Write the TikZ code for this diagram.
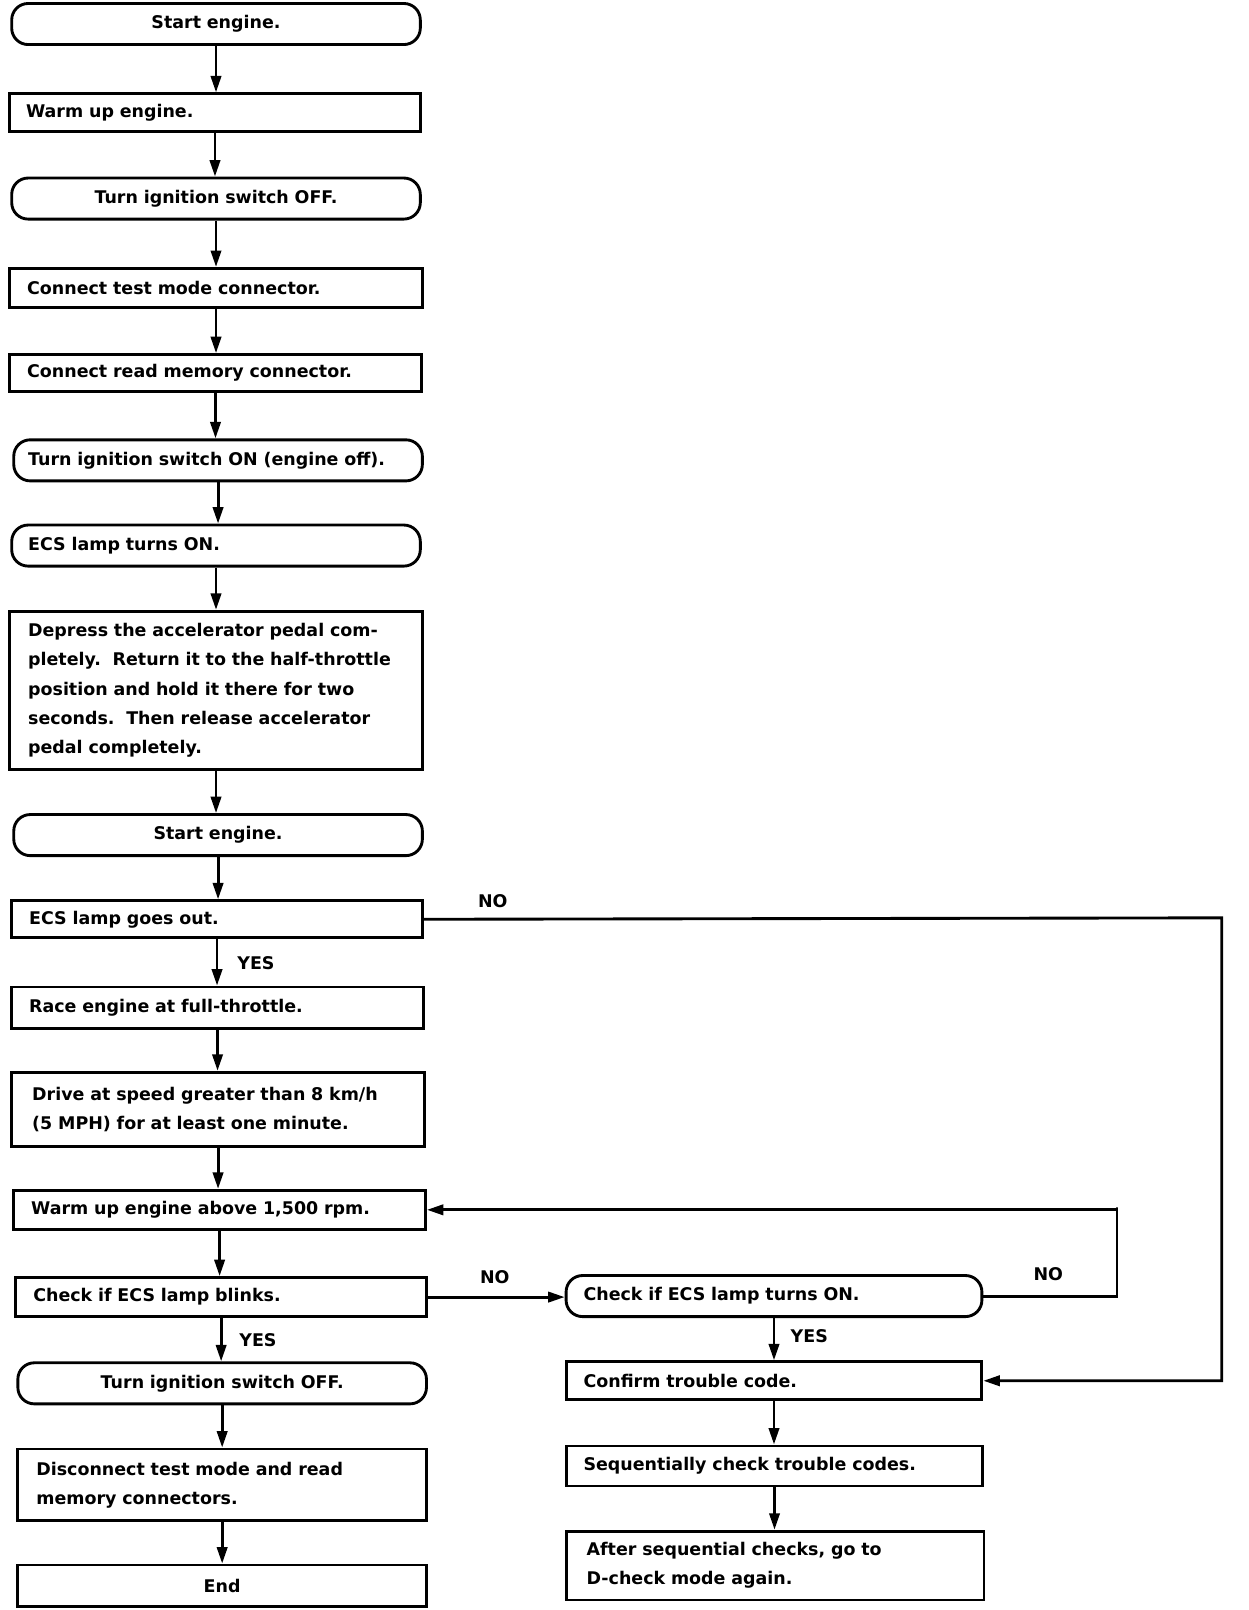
\documentclass[tikz,border=0pt]{standalone}
\usepackage{fontspec}
\setmainfont{DejaVu Sans}
\usetikzlibrary{arrows.meta}
\begin{document}
\begin{tikzpicture}[x=1pt,y=-1pt,
  every node/.style={font=\fontsize{17}{28.5}\selectfont\bfseries},
  base/.style={draw, line width=2.8pt, anchor=north west, inner xsep=17pt, inner ysep=0pt, align=left},
  sbox/.style={base},
  rbox/.style={base, rounded corners=16pt},
  lbl/.style={inner sep=0pt},
  conn/.style={line width=2.8pt},
  arr/.style={conn, -{Triangle[width=10pt,length=16pt]}}
]
\useasboundingbox (0,0) rectangle (1215.6,1568.2);

\node[rbox, minimum width=398pt, minimum height=40pt, text width=364pt, align=center] (n1) at (10,2) {Start engine.};
\node[sbox, minimum width=400pt, minimum height=37pt, text width=368pt, inner xsep=16pt] (n2) at (8,90) {Warm up engine.};
\node[rbox, minimum width=398pt, minimum height=40pt, text width=364pt, align=center] (n3) at (10,172) {Turn ignition switch OFF.};
\node[sbox, minimum width=402pt, minimum height=38pt, text width=368pt] (n4) at (8,260) {Connect test mode connector.};
\node[sbox, minimum width=401pt, minimum height=36pt, text width=367pt] (n5) at (8,344) {Connect read memory connector.};
\node[rbox, minimum width=398pt, minimum height=40pt, text width=370pt, inner xsep=14pt] (n6) at (12,427) {Turn ignition switch ON (engine off).};
\node[rbox, minimum width=398pt, minimum height=40pt, text width=366pt, inner xsep=16pt] (n7) at (10,510) {ECS lamp turns ON.};
\node[sbox, minimum width=402pt, minimum height=154pt, text width=366pt, inner xsep=18pt] (n8) at (8,594) {Depress the accelerator pedal com-\\pletely.\ \ Return it to the half-throttle\\position and hold it there for two\\seconds.\ \ Then release accelerator\\pedal completely.};
\node[rbox, minimum width=398pt, minimum height=40pt, text width=364pt, align=center] (n9) at (12,792) {Start engine.};
\node[sbox, minimum width=400pt, minimum height=36pt, text width=366pt] (n10) at (10,876) {ECS lamp goes out.};
\node[sbox, minimum width=401pt, minimum height=40pt, text width=367pt] (n11) at (10,960) {Race engine at full-throttle.};
\node[sbox, minimum width=402pt, minimum height=72pt, text width=362pt, inner xsep=20pt] (n12) at (10,1043) {Drive at speed greater than 8 km/h\\(5 MPH) for at least one minute.};
\node[sbox, minimum width=401pt, minimum height=38pt, text width=367pt] (n13) at (12,1158) {Warm up engine above 1,500 rpm.};
\node[sbox, minimum width=400pt, minimum height=38pt, text width=366pt] (n14) at (14,1243) {Check if ECS lamp blinks.};
\node[rbox, minimum width=398pt, minimum height=40pt, text width=364pt, align=center] (n15) at (16,1326) {Turn ignition switch OFF.};
\node[sbox, minimum width=398pt, minimum height=70pt, text width=362pt, inner xsep=18pt] (n16) at (16,1410) {Disconnect test mode and read\\memory connectors.};
\node[sbox, minimum width=398pt, minimum height=40pt, text width=364pt, align=center] (n17) at (16,1523) {End};

\node[rbox, minimum width=405pt, minimum height=40pt, text width=371pt] (r1) at (550,1241) {Check if ECS lamp turns ON.};
\node[sbox, minimum width=405pt, minimum height=37pt, text width=371pt] (r2) at (550,1325) {Confirm trouble code.};
\node[sbox, minimum width=406pt, minimum height=39pt, text width=372pt] (r3) at (550,1407) {Sequentially check trouble codes.};
\node[sbox, minimum width=407pt, minimum height=67pt, text width=367pt, inner xsep=20pt] (r4) at (550,1490) {After sequential checks, go to\\D-check mode again.};

\foreach \a/\b in {n1/n2,n2/n3,n3/n4,n4/n5,n5/n6,n6/n7,n7/n8,n8/n9,n9/n10,n10/n11,n11/n12,n12/n13,n13/n14,n14/n15,n15/n16,n16/n17,r1/r2,r2/r3,r3/r4}
  \draw[arr] (\a.south) -- (\a.south |- \b.north);

\coordinate (c1) at (1190,894);
\coordinate (c2) at (1088,1176);
\draw[arr] (n10.east) -- (c1) |- (r2.east);
\draw[arr] (n14.east) -- (n14.east -| r1.west);
\draw[arr] (r1.east) -| (c2) |- (n13.east);

\node[lbl] (no1) at (480,878) {NO};
\node[lbl] (no2) at (482,1244) {NO};
\node[lbl] (no3) at (1021,1241) {NO};
\node[lbl, anchor=west] (yes1) at (231,938) {YES};
\node[lbl, anchor=west] (yes2) at (233,1305) {YES};
\node[lbl, anchor=west] (yes3) at (770,1301) {YES};
\end{tikzpicture}
\end{document}
